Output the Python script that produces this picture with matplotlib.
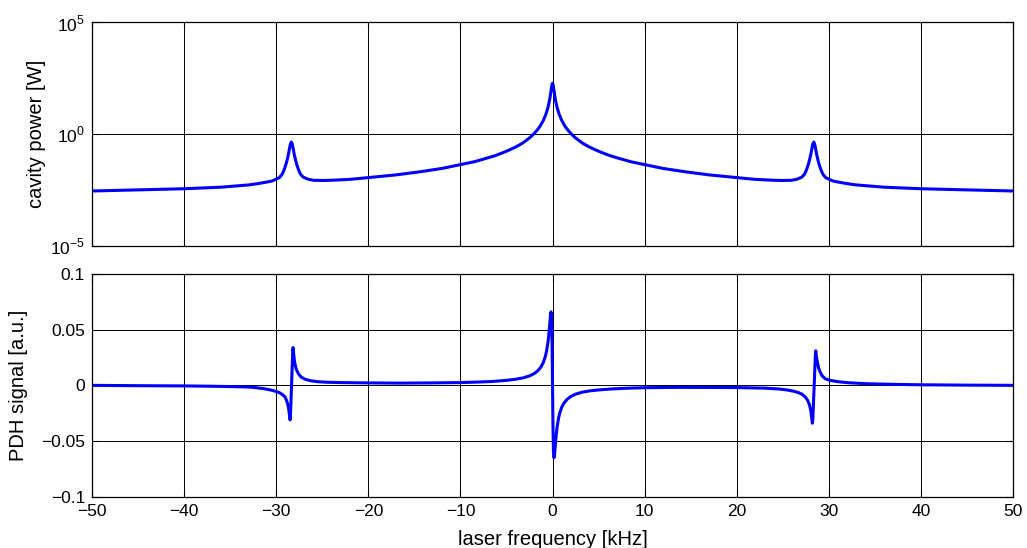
import matplotlib
matplotlib.use("Agg")
import matplotlib.pyplot as plt
from matplotlib.ticker import FixedLocator, NullLocator

plt.rcParams['font.family'] = ['Liberation Sans', 'DejaVu Sans']
plt.rcParams['mathtext.fontset'] = 'custom'
plt.rcParams['mathtext.rm'] = 'Liberation Sans'

# ---- data: cavity power [W] vs laser frequency [kHz] ----
freq_power = [-50, -45, -40, -36, -33, -32, -31, -30.5, -30.16, -29.66, -29.36, -29.16,
              -28.96, -28.81, -28.66, -28.56, -28.46, -28.36, -28.26, -28.16, -28.06,
              -27.91, -27.76, -27.56, -27.36, -27.06, -26.56, -26, -25, -24, -22, -20,
              -17, -14.4, -12, -10, -8.5, -7.3, -6.3, -5.4, -4.6, -3.9, -3.3, -2.8,
              -2.4, -2.0, -1.7, -1.4, -1.2, -1.0, -0.85, -0.7, -0.55, -0.45, -0.35,
              -0.27, -0.2, -0.15, -0.1, -0.05, 0,
              0.05, 0.1, 0.15, 0.2, 0.27, 0.35, 0.45, 0.55, 0.7, 0.85, 1.0, 1.2, 1.4,
              1.7, 2.0, 2.4, 2.8, 3.3, 3.9, 4.6, 5.4, 6.3, 7.3, 8.5, 10, 12, 14.4, 17,
              20, 22, 24, 25, 26, 26.56, 27.06, 27.36, 27.56, 27.76, 27.91, 28.06,
              28.16, 28.26, 28.36, 28.46, 28.56, 28.66, 28.81, 28.96, 29.16, 29.36,
              29.66, 30.16, 30.5, 31, 32, 33, 36, 40, 45, 50]
cavity_power = [2.82e-3, 3.16e-3, 3.55e-3, 4.17e-3, 5.25e-3, 6.0e-3, 7.1e-3, 7.8e-3, 8.9e-3,
                1.12e-2, 1.58e-2, 2.40e-2, 4.17e-2, 7.08e-2, 0.132, 0.224, 0.355, 0.437,
                0.355, 0.224, 0.132, 7.08e-2, 4.17e-2, 2.40e-2, 1.58e-2, 1.17e-2, 9.55e-3,
                8.51e-3, 8.32e-3, 8.51e-3, 9.33e-3, 1.12e-2,
                1.48e-2, 2.04e-2, 2.88e-2, 4.27e-2, 5.75e-2, 7.94e-2, 0.105, 0.145,
                0.200, 0.275, 0.380, 0.537,
                0.724, 1.05, 1.45, 2.09, 2.88, 4.07, 5.62, 8.13, 12.9, 18.6, 28.8,
                43.7, 67.6, 93.3, 128.8, 167.5, 186,
                167.5, 128.8, 93.3, 67.6, 43.7, 28.8, 18.6, 12.9, 8.13, 5.62, 4.07, 2.88,
                2.09, 1.45, 1.05, 0.724, 0.537, 0.380, 0.275, 0.200, 0.145, 0.105,
                7.94e-2, 5.75e-2, 4.27e-2, 2.88e-2, 2.04e-2, 1.48e-2,
                1.12e-2, 9.33e-3, 8.51e-3, 8.32e-3, 8.51e-3, 9.55e-3, 1.17e-2, 1.58e-2,
                2.40e-2, 4.17e-2, 7.08e-2, 0.132, 0.224, 0.355, 0.437, 0.355, 0.224,
                0.132, 7.08e-2, 4.17e-2, 2.40e-2, 1.58e-2, 1.12e-2, 8.9e-3, 7.8e-3,
                7.1e-3, 6.0e-3, 5.25e-3, 4.17e-3, 3.55e-3, 3.16e-3, 2.82e-3]

# ---- data: PDH error signal [a.u.] vs laser frequency [kHz] ----
freq_pdh = [-50, -45, -40, -37, -35, -33, -32.3, -31.5, -31, -30.5, -30, -29.6, -29.3,
            -29.05, -28.88, -28.75, -28.65, -28.57, -28.5, -28.46, -28.2, -28.17, -28.1,
            -28.02, -27.92, -27.8, -27.6, -27.3, -26.9, -26.3, -25.5, -24.5, -23, -20,
            -16.5, -13, -10, -8, -6.5, -5, -4, -3.2, -2.5, -2.0, -1.6, -1.25, -1.0,
            -0.8, -0.65, -0.5, -0.4, -0.3, -0.22, -0.16, -0.1, -0.05, 0,
            0.05, 0.1, 0.16, 0.22, 0.3, 0.4, 0.5, 0.65, 0.8, 1.0, 1.25, 1.6, 2.0, 2.5,
            3.2, 4, 5, 6.5, 8, 10, 14, 20, 23, 24.5, 25.5, 26.2, 26.7, 27.1, 27.45,
            27.7, 27.88, 28.0, 28.1, 28.18, 28.21, 28.26, 28.55, 28.58, 28.65, 28.75,
            28.88, 29.05, 29.25, 29.6, 30.1, 31, 32, 34, 37, 40, 45, 50]
pdh_signal = [0.0, -0.0003, -0.0005, -0.0008, -0.0011, -0.0015, -0.002, -0.0028, -0.0035,
              -0.0044, -0.0055, -0.0068, -0.0085, -0.0104, -0.0135, -0.017, -0.021,
              -0.026, -0.031, -0.029, 0.032, 0.034, 0.028, 0.022, 0.0175, 0.014, 0.0105,
              0.0075, 0.0056, 0.0042, 0.0033, 0.0028, 0.0025, 0.0022, 0.002, 0.0022,
              0.0025, 0.003, 0.0035, 0.0045, 0.0055, 0.0067, 0.0085, 0.0105, 0.0131,
              0.0166, 0.0206, 0.0254, 0.0306, 0.0383, 0.0455, 0.0548, 0.0628, 0.066,
              0.0593, 0.0376, 0.0,
              -0.0376, -0.0593, -0.065, -0.0618, -0.0538, -0.0445, -0.0373, -0.0296,
              -0.0244, -0.0196, -0.0158, -0.0124, -0.0099, -0.0079, -0.0062, -0.005,
              -0.0041, -0.0032, -0.0026, -0.0021, -0.0018, -0.002, -0.0025, -0.0032,
              -0.0042, -0.0053, -0.0065, -0.008, -0.0105, -0.0135, -0.017, -0.021,
              -0.026, -0.032, -0.034, -0.031, 0.029, 0.031, 0.026, 0.021, 0.016, 0.012,
              0.0088, 0.006, 0.0045, 0.0033, 0.0024, 0.0015, 0.0009, 0.0005, 0.0002, 0.0]

x_ticks = [-50, -40, -30, -20, -10, 0, 10, 20, 30, 40, 50]
x_ticklabels = ['\u221250', '\u221240', '\u221230', '\u221220', '\u221210',
                '0', '10', '20', '30', '40', '50']
top_yticks = [1e-5, 1e0, 1e5]
top_ylabels = [r'$10^{-5}$', r'$10^{0}$', r'$10^{5}$']
bottom_yticks = [-0.1, -0.05, 0, 0.05, 0.1]
bottom_ylabels = ['\u22120.1', '\u22120.05', '0', '0.05', '0.1']

FS_TICK = 12.5
FS_LABEL = 14.5

fig = plt.figure(figsize=(10.27, 5.48), dpi=100)
ax1 = fig.add_axes([0.0896, 0.5516, 0.8968, 0.4077])
ax2 = fig.add_axes([0.0896, 0.0936, 0.8968, 0.4064])

blue = (0, 0, 1)
ax1.semilogy(freq_power, cavity_power, color=blue, lw=2.2, solid_joinstyle='round')
ax2.plot(freq_pdh, pdh_signal, color=blue, lw=2.2, solid_joinstyle='round')

for ax in (ax1, ax2):
    ax.set_xlim(-50, 50)
    ax.set_xticks(x_ticks)
    ax.grid(True, which='major', color='k', lw=0.7, ls='-')
    ax.set_axisbelow(True)
    ax.tick_params(direction='in', length=5, width=0.8, top=True, right=True,
                   labelsize=FS_TICK, colors='k', pad=5)
    for s in ax.spines.values():
        s.set_linewidth(0.9)
        s.set_color('k')

ax1.set_ylim(1e-5, 1e5)
ax1.yaxis.set_major_locator(FixedLocator(top_yticks))
ax1.yaxis.set_minor_locator(NullLocator())
ax1.set_yticklabels(top_ylabels)
ax1.tick_params(labelbottom=False)
ax1.set_ylabel('cavity power [W]', fontsize=FS_LABEL)
ax1.yaxis.set_label_coords(-0.050, 0.5)

ax2.set_ylim(-0.1, 0.1)
ax2.set_yticks(bottom_yticks)
ax2.set_yticklabels(bottom_ylabels)
ax2.set_xticklabels(x_ticklabels)
ax2.set_xlabel('laser frequency [kHz]', fontsize=FS_LABEL)
ax2.xaxis.set_label_coords(0.5, -0.150)
ax2.set_ylabel('PDH signal [a.u.]', fontsize=FS_LABEL)
ax2.yaxis.set_label_coords(-0.069, 0.5)

fig.savefig('out.png', dpi=100)
